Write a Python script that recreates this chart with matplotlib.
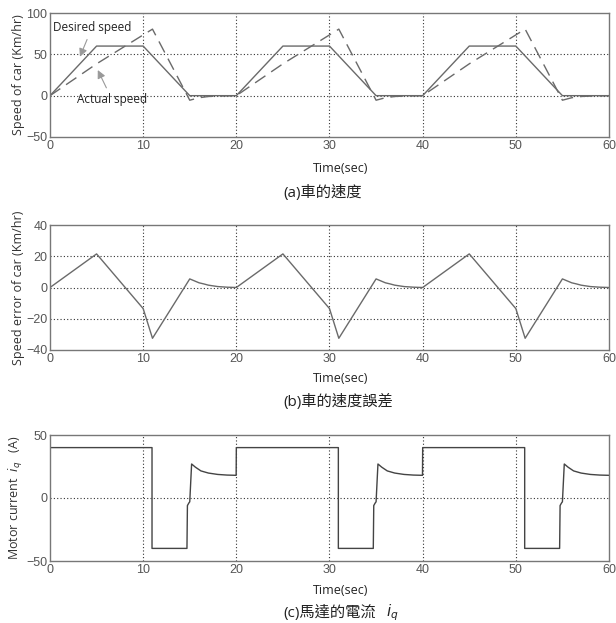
import matplotlib
matplotlib.use("Agg")
import matplotlib.pyplot as plt
import numpy as np

# one 20 s cycle of each signal
t_des = [0, 5, 10, 15, 20]
v_des = [0, 60, 60, 0, 0]

t_act = [0, 5, 10, 11, 15, 16, 17, 18, 19, 20]
v_act = [0, 38.5, 73.5, 80.5, -5.5, -2.5, -1, -0.5, -0.2, 0]

t_err = [0, 5, 10, 11, 15, 16, 16.5, 17, 18, 19, 20]
v_err = [0, 21.5, -13.5, -32.5, 5.5, 3.0, 2.3, 1.5, 0.6, 0.2, 0]

t_cur = [0, 10.95, 10.95, 14.7, 14.75, 14.9, 15.0, 15.2, 15.6, 16.2, 17, 18, 19, 19.98, 20]
v_cur = [40, 40, -40, -40, -6, -4, -3, 27, 24.5, 21.5, 19.8, 18.7, 18.2, 18, 40]

cycles = 3
period = 20

xticks = [0, 10, 20, 30, 40, 50, 60]
yticks_a = [-50, 0, 50, 100]
yticks_b = [-40, -20, 0, 20, 40]
yticks_c = [-50, 0, 50]

captions = ["(a)車的速度", "(b)車的速度誤差", "(c)馬達的電流"]


def tile(t, v, n, last=True):
    tt = np.concatenate([np.array(t) + period * k for k in range(n)])
    vv = np.concatenate([np.array(v, dtype=float) for k in range(n)])
    if not last:
        tt, vv = tt[:-1], vv[:-1]
    return tt, vv


line_col = "#6a6a6a"
txt_fam = ["Open Sans", "Noto Sans CJK TC", "DejaVu Sans"]
tick_fam = ["Liberation Sans", "DejaVu Sans"]

W, H = 616, 623
fig = plt.figure(figsize=(W / 100, H / 100), dpi=100)

boxes = [
    [50 / W, 1 - 137 / H, 559 / W, 124 / H],
    [50 / W, 1 - 350 / H, 559 / W, 125 / H],
    [50 / W, 1 - 561 / H, 559 / W, 126 / H],
]
axs = [fig.add_axes(b) for b in boxes]


def style(ax, yticks, gridy, xlab_y):
    ax.set_xlim(0, 60)
    ax.set_ylim(yticks[0], yticks[-1])
    ax.set_xticks(xticks)
    ax.set_yticks(yticks)
    for s in ax.spines.values():
        s.set_color("#777777")
        s.set_linewidth(1.0)
    ax.tick_params(length=0, labelsize=9, colors="#555555", pad=2)
    for lab in ax.get_xticklabels() + ax.get_yticklabels():
        lab.set_family(tick_fam)
    for x in xticks[1:-1]:
        ax.axvline(x, color="#333333", lw=0.8, ls=(0, (1, 2)), zorder=0)
    for y in gridy:
        ax.axhline(y, color="#333333", lw=0.8, ls=(0, (1, 2)), zorder=0)
    ax.set_xlabel("Time(sec)", family=txt_fam, fontsize=9, color="#222222", va="center")
    ax.xaxis.set_label_coords((341 - 50) / 559, xlab_y)


# (a) speed
ax = axs[0]
style(ax, yticks_a, [0, 50], -31 / 124)
td, vd = tile(t_des, v_des, cycles)
ta, va = tile(t_act, v_act, cycles)
ax.plot(td, vd, color=line_col, lw=1.0)
ax.plot(ta, va, color=line_col, lw=1.0, ls=(0, (9, 5)))
ax.set_ylabel("Speed of car (Km/hr)", family=txt_fam, fontsize=9, color="#333333", labelpad=1)
ax.annotate("Desired speed", xy=(3.1, 44), xytext=(0.3, 78), family=txt_fam,
            fontsize=8.5, color="#222222",
            arrowprops=dict(arrowstyle="-|>", color="#999999", lw=0.8, mutation_scale=12))
ax.annotate("Actual speed", xy=(5.0, 34), xytext=(2.9, -9), family=txt_fam,
            fontsize=8.5, color="#222222",
            arrowprops=dict(arrowstyle="-|>", color="#999999", lw=0.8, mutation_scale=12))

# (b) speed error
ax = axs[1]
style(ax, yticks_b, [-20, 0, 20], -28 / 125)
te, ve = tile(t_err, v_err, cycles)
ax.plot(te, ve, color=line_col, lw=1.0)
ax.set_ylabel("Speed error of car (Km/hr)", family=txt_fam, fontsize=9, color="#333333", labelpad=1)

# (c) motor current
ax = axs[2]
style(ax, yticks_c, [0], -29 / 126)
tc, vc = tile(t_cur, v_cur, cycles, last=False)
ax.plot(tc, vc, color="#444444", lw=1.0)
ax.set_ylabel("Motor current  $i_q$   (A)", family=txt_fam, fontsize=9, color="#333333", labelpad=1)

for cap, y in zip(captions, [193, 402, 613]):
    fig.text(283 / W, 1 - y / H, cap, ha="left", va="center",
             family=txt_fam, fontsize=11, color="#222222")
fig.text(386 / W, 1 - 613 / H, "$i_q$", ha="left", va="center", fontsize=11, color="#222222")

fig.savefig("out.png", dpi=100)
